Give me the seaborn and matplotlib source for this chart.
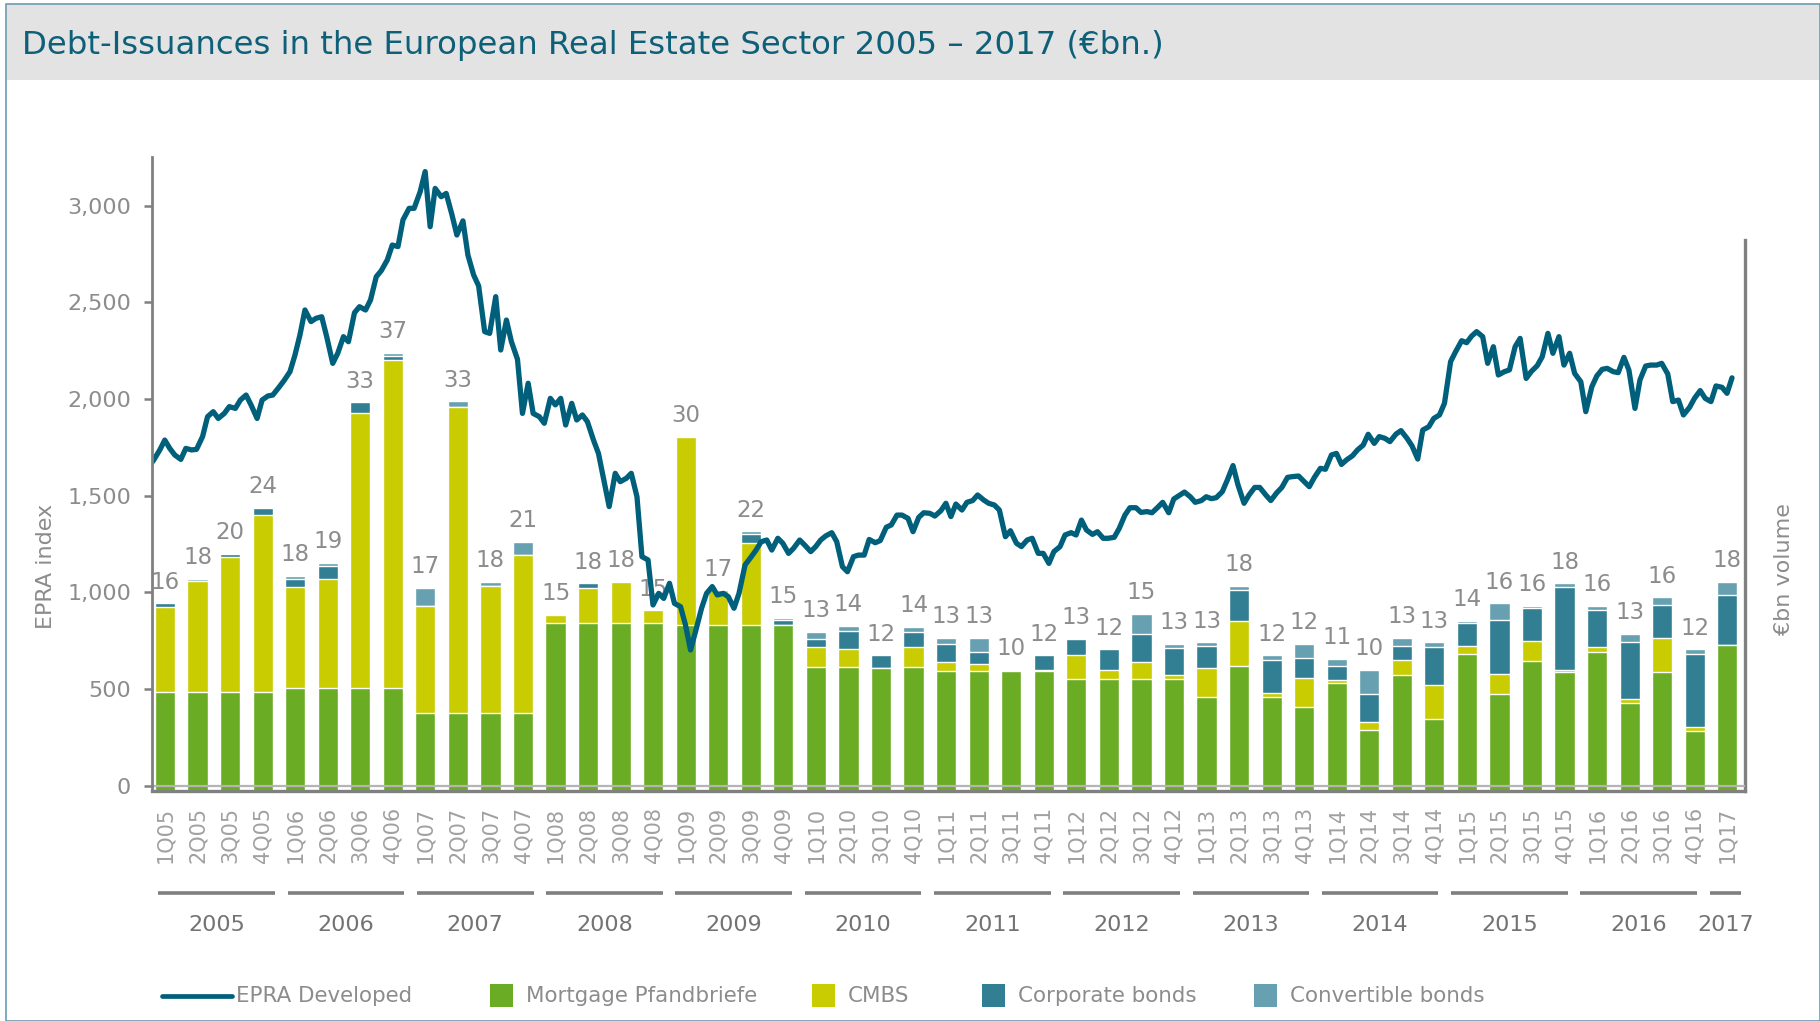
import pandas as pd
import matplotlib
matplotlib.use('Agg')
import matplotlib.pyplot as plt
import seaborn as sns
from matplotlib.patches import Rectangle
from matplotlib.lines import Line2D
from matplotlib.ticker import FuncFormatter

#  quarterly debt issuance, EUR bn
quarters = ['1Q05', '2Q05', '3Q05', '4Q05', '1Q06', '2Q06', '3Q06', '4Q06',
            '1Q07', '2Q07', '3Q07', '4Q07', '1Q08', '2Q08', '3Q08', '4Q08',
            '1Q09', '2Q09', '3Q09', '4Q09', '1Q10', '2Q10', '3Q10', '4Q10',
            '1Q11', '2Q11', '3Q11', '4Q11', '1Q12', '2Q12', '3Q12', '4Q12',
            '1Q13', '2Q13', '3Q13', '4Q13', '1Q14', '2Q14', '3Q14', '4Q14',
            '1Q15', '2Q15', '3Q15', '4Q15', '1Q16', '2Q16', '3Q16', '4Q16',
            '1Q17']
years = ['2005', '2006', '2007', '2008', '2009', '2010', '2011', '2012',
         '2013', '2014', '2015', '2016', '2017']

mortgage = [8.4, 8.4, 8.4, 8.4, 8.7, 8.7, 8.7, 8.7, 6.6, 6.6, 6.6, 6.6,
            14.2, 14.2, 14.2, 14.2, 14.1, 14.1, 14.1, 14.1, 10.5, 10.5, 10.4, 10.5,
            10.2, 10.2, 10.2, 10.2, 9.5, 9.5, 9.5, 9.5, 8.0, 10.6, 8.0, 7.1,
            9.2, 5.2, 9.8, 6.1, 11.6, 8.2, 11.0, 10.1, 11.8, 7.5, 10.1, 5.1, 12.4]
cmbs = [7.2, 9.4, 11.4, 15.0, 8.6, 9.3, 23.3, 27.8, 9.1, 25.9, 10.8, 13.4,
        0.7, 3.0, 3.5, 1.1, 15.9, 2.9, 6.9, 0.0, 1.7, 1.5, 0.0, 1.7,
        0.7, 0.6, 0.0, 0.1, 2.0, 0.8, 1.4, 0.3, 2.4, 3.8, 0.3, 2.5,
        0.2, 0.7, 1.3, 2.9, 0.7, 1.7, 1.7, 0.2, 0.4, 0.3, 2.9, 0.3, 0.0]
corporate = [0.3, 0.0, 0.3, 0.6, 0.7, 1.1, 0.9, 0.3, 0.0, 0.0, 0.0, 0.0,
             0.0, 0.4, 0.0, 0.0, 0.0, 0.0, 0.8, 0.4, 0.7, 1.6, 1.1, 1.3,
             1.6, 1.0, 0.0, 1.2, 1.4, 1.7, 2.4, 2.3, 1.9, 2.6, 2.8, 1.7,
             1.2, 2.3, 1.2, 3.2, 1.9, 4.6, 2.8, 7.0, 3.1, 4.8, 2.8, 6.2, 4.2]
convertible = [0.0, 0.2, 0.0, 0.0, 0.2, 0.2, 0.0, 0.3, 1.5, 0.5, 0.3, 1.1,
               0.0, 0.0, 0.0, 0.0, 0.0, 0.0, 0.2, 0.2, 0.6, 0.4, 0.0, 0.4,
               0.5, 1.2, 0.1, 0.0, 0.0, 0.0, 1.7, 0.4, 0.3, 0.4, 0.4, 1.2,
               0.6, 2.1, 0.7, 0.4, 0.2, 1.4, 0.2, 0.3, 0.4, 0.7, 0.6, 0.4, 1.1]
totals = [16, 18, 20, 24, 18, 19, 33, 37, 17, 33, 18, 21, 15, 18, 18, 15,
          30, 17, 22, 15, 13, 14, 12, 14, 13, 13, 10, 12, 13, 12, 15, 13,
          13, 18, 12, 12, 11, 10, 13, 13, 14, 16, 16, 18, 16, 13, 16, 12, 18]

#  EPRA Developed index, twice a month from Jan 2005
epra = [1650, 1685, 1737, 1788, 1745, 1711, 1688, 1745, 1737, 1740,
        1806, 1909, 1935, 1900, 1926, 1961, 1952, 1995, 2021, 1970,
        1900, 1995, 2016, 2021, 2061, 2095, 2142, 2228, 2332, 2461,
        2401, 2418, 2426, 2323, 2185, 2237, 2323, 2297, 2447, 2478,
        2461, 2513, 2633, 2664, 2720, 2797, 2789, 2927, 2987, 2987,
        3073, 3177, 2892, 3090, 3047, 3064, 2955, 2849, 2922, 2745,
        2642, 2586, 2349, 2340, 2530, 2254, 2409, 2297, 2206, 1926,
        2082, 1926, 1909, 1875, 2004, 1970, 2004, 1866, 1978, 1892,
        1918, 1883, 1788, 1719, 1573, 1444, 1616, 1573, 1590, 1616,
        1495, 1185, 1168, 935, 995, 969, 1047, 943, 926, 831,
        702, 797, 918, 995, 1030, 987, 995, 978, 918, 995,
        1142, 1176, 1219, 1262, 1271, 1219, 1280, 1254, 1202, 1228,
        1271, 1245, 1211, 1237, 1271, 1292, 1309, 1262, 1133, 1107,
        1185, 1193, 1193, 1274, 1257, 1268, 1337, 1349, 1400, 1400,
        1383, 1314, 1388, 1412, 1409, 1395, 1423, 1461, 1392, 1457,
        1426, 1466, 1475, 1504, 1478, 1461, 1452, 1426, 1288, 1319,
        1254, 1237, 1271, 1280, 1202, 1202, 1150, 1211, 1237, 1297,
        1309, 1297, 1374, 1323, 1300, 1314, 1280, 1280, 1285, 1331,
        1400, 1438, 1438, 1414, 1418, 1412, 1440, 1466, 1412, 1483,
        1502, 1519, 1495, 1466, 1475, 1495, 1485, 1490, 1521, 1581,
        1656, 1556, 1461, 1504, 1543, 1543, 1504, 1475, 1516, 1543,
        1595, 1599, 1602, 1576, 1547, 1594, 1642, 1637, 1711, 1719,
        1662, 1685, 1707, 1737, 1762, 1818, 1771, 1806, 1797, 1780,
        1819, 1837, 1797, 1758, 1690, 1840, 1857, 1900, 1918, 1978,
        2194, 2245, 2302, 2292, 2326, 2349, 2323, 2185, 2271, 2125,
        2142, 2151, 2271, 2314, 2107, 2142, 2173, 2219, 2340, 2237,
        2323, 2176, 2237, 2133, 2090, 1935, 2064, 2120, 2154, 2159,
        2142, 2137, 2216, 2150, 1952, 2099, 2171, 2176, 2176, 2185,
        2130, 1987, 1995, 1918, 1957, 2004, 2044, 2004, 1987, 2068,
        2061, 2030, 2110]

layers = ['Mortgage Pfandbriefe', 'CMBS', 'Corporate bonds', 'Convertible bonds']
colors = {'Mortgage Pfandbriefe': '#6aac24', 'CMBS': '#c8cc00',
          'Corporate bonds': '#327f93', 'Convertible bonds': '#67a1b1'}
line_c = '#005f7a'
grey_txt = '#8c8c8c'
axis_c = '#808080'

sns.set_style('white')
plt.rcParams['font.family'] = ['DejaVu Sans']

W, H = 1820, 1021


def fx(px):
    return px / W


def fy(py):
    return 1 - py / H


fig = plt.figure(figsize=(W / 100, H / 100), dpi=100)
ax = fig.add_axes([fx(152), fy(791.3), (1744.5 - 152) / W, (791.3 - 156.9) / H])
ax2 = ax.twinx()

#  stacked bars: draw cumulative sums back to front
df = pd.DataFrame({'quarter': quarters, layers[0]: mortgage, layers[1]: cmbs,
                   layers[2]: corporate, layers[3]: convertible})
cum = df[layers].cumsum(axis=1)
cum['quarter'] = quarters
for name in reversed(layers):
    sns.barplot(data=cum, x='quarter', y=name, color=colors[name], saturation=1,
                width=0.62, edgecolor='white', linewidth=1, errorbar=None, ax=ax2)
ax2.bar_label(ax2.containers[0], labels=[str(t) for t in totals], padding=7,
              fontsize=16.5, color=grey_txt)

#  EPRA line on the left axis
line_df = pd.DataFrame({'date': pd.date_range('2005-01-01', periods=len(epra), freq='SMS'),
                        'epra': epra})
line_df['pos'] = (line_df['date'].dt.year - 2005
                  + (line_df['date'].dt.dayofyear - 1) / 365.25) * 4 - 0.5
sns.lineplot(data=line_df, x='pos', y='epra', color=line_c, linewidth=3.8,
             estimator=None, solid_joinstyle='round', ax=ax)
ax.axhline(0, color='#b4b4b4', lw=1.6, zorder=1)

ax.set_zorder(ax2.get_zorder() + 1)
ax.patch.set_visible(False)

ax.set_xlim(-0.4, 48.53)
ax.set_ylim(-29, 3253)
ax2.set_ylim(0, 53.67)
ax.set_yticks(range(0, 3001, 500))
ax.yaxis.set_major_formatter(FuncFormatter(lambda v, p: f'{v:,.0f}'))
ax.set_xticks(range(len(quarters)))
ax.set_xticklabels(quarters, rotation=90)
ax.tick_params(axis='x', length=0, pad=11, labelsize=15, labelcolor='#a0a0a0')
ax.tick_params(axis='y', length=6, width=1.8, color=axis_c, pad=9,
               labelsize=16, labelcolor=grey_txt, left=True)
ax2.set_yticks([])
for a in (ax, ax2):
    a.set_xlabel('')
    a.set_ylabel('')
    a.grid(False)

for s in ('top', 'right'):
    ax.spines[s].set_visible(False)
ax.spines['left'].set_color(axis_c)
ax.spines['left'].set_linewidth(2)
ax.spines['bottom'].set_color(axis_c)
ax.spines['bottom'].set_linewidth(2.4)
for s in ('top', 'left', 'bottom'):
    ax2.spines[s].set_visible(False)
ax2.spines['right'].set_color(axis_c)
ax2.spines['right'].set_linewidth(2.4)
ax2.spines['right'].set_bounds(0, 46.6)

#  year grouping under the quarter labels
starts = [-0.206 + 3.972 * i for i in range(len(years))]
ends = [s + 3.585 for s in starts[:-1]] + [48.42]
bounds = [(ends[i] + starts[i + 1]) / 2 for i in range(len(years) - 1)]
ax.set_xticks(bounds, minor=True)
ax.tick_params(axis='x', which='minor', length=5, width=1.5, direction='in', color='#b0b0b0')
xt = ax.get_xaxis_transform()
for yr, s, e in zip(years, starts, ends):
    ax.plot([s, e], [-0.1608, -0.1608], transform=xt, clip_on=False,
            color='#7f7f7f', lw=2.6, solid_capstyle='butt')
    ax.text((s + e) / 2, -0.2107, yr, transform=xt, ha='center', va='center',
            fontsize=16, color='#737373')

fig.text(fx(46), fy(566), 'EPRA index', rotation=90, ha='center', va='center',
         fontsize=16, color=grey_txt)
fig.text(fx(1784), fy(569), '€bn volume', rotation=90, ha='center', va='center',
         fontsize=16, color=grey_txt)

#  header band, frame and title
fig.add_artist(Rectangle((fx(6), fy(80)), 1 - fx(6), (80 - 4.5) / H, transform=fig.transFigure,
                         facecolor='#e3e3e3', edgecolor='none', zorder=0))
fig.add_artist(Rectangle((fx(6), 0), 1 - fx(6), fy(4.5), transform=fig.transFigure,
                         facecolor='none', edgecolor='#6b9bb0', lw=1.2, zorder=1))
fig.text(fx(22), fy(54), 'Debt-Issuances in the European Real Estate Sector 2005 \u2013 2017 (\u20acbn.)',
         fontsize=23.3, color='#0e6079', va='baseline', ha='left')

#  legend laid out along the bottom
ly = fy(996)
fig.add_artist(Line2D([fx(162), fx(232)], [ly, ly], transform=fig.transFigure,
                      color=line_c, lw=3.4))
fig.text(fx(236), ly, 'EPRA Developed', fontsize=15.4, color=grey_txt, va='center')
legend_x = {'Mortgage Pfandbriefe': 490, 'CMBS': 812, 'Corporate bonds': 982,
            'Convertible bonds': 1254}
for name in layers:
    x0 = legend_x[name]
    fig.add_artist(Rectangle((fx(x0), fy(1007)), 23 / W, 23 / H, transform=fig.transFigure,
                             facecolor=colors[name], edgecolor='none'))
    fig.text(fx(x0 + 36), ly, name, fontsize=15.4, color=grey_txt, va='center')

fig.savefig('out.png', dpi=100)
